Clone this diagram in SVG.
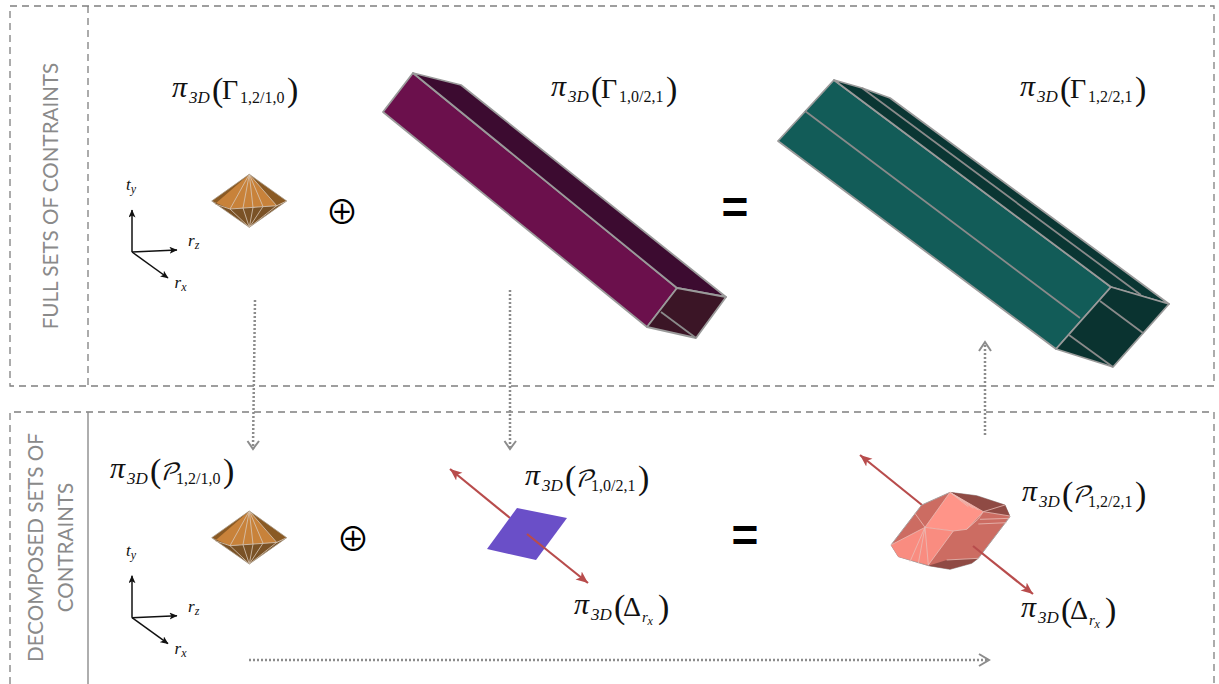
<svg xmlns="http://www.w3.org/2000/svg" xmlns:xlink="http://www.w3.org/1999/xlink" width="1219" height="684" viewBox="0 0 1219 684">
<style>
text{font-family:"Liberation Serif","DejaVu Serif",serif;fill:#111}
.pi{font-size:30px;font-style:italic}
.d{font-size:17px;font-style:italic}
.sub{font-size:16px}
.par{font-size:34px;font-weight:400}
.sym{font-size:28px}
.script{font-size:23px;font-style:italic;font-family:"DejaVu Math TeX Gyre","Liberation Serif",serif}
.ax{font-size:17px;font-style:italic}
.axs{font-size:12px;font-style:italic}
.rr{font-size:15px;font-style:italic}
.side{font-family:Lato,"Open Sans",sans-serif;font-size:20.6px;fill:#8a8a8a;text-anchor:middle;font-weight:400}
.op{font-family:"Noto Sans CJK SC",sans-serif;font-size:33px;fill:#000}
.eq{font-family:"Liberation Sans",sans-serif;font-size:46px;font-weight:700;fill:#000}
.dash{fill:none;stroke:#7f7f7f;stroke-width:1.3;stroke-dasharray:7 5}
.flow{fill:none;stroke:#8c8c8c;stroke-width:2.5;stroke-dasharray:2 2}
.head{fill:none;stroke:#8c8c8c;stroke-width:2}
.edge{stroke:#9a9a9a;stroke-width:1.8;stroke-linejoin:round}
.line{fill:none;stroke:#8a8a8a;stroke-width:1.8}
.fine{fill:none;stroke:#d8c8b8;stroke-width:.8}
.pk{fill:none;stroke:#e8bdb6;stroke-width:2.4}
.axis{stroke:#111;stroke-width:1.5;fill:none;marker-end:url(#ah)}
.red{stroke:#b84c4c;stroke-width:2.2;fill:none;marker-end:url(#rh)}
</style>
<defs>
<marker id="ah" markerWidth="9" markerHeight="8" refX="7.5" refY="3.5" orient="auto" markerUnits="userSpaceOnUse"><path d="M0,0L8,3.5L0,7L2,3.5Z" fill="#111"/></marker>
<marker id="rh" markerWidth="14" markerHeight="12" refX="12" refY="5" orient="auto" markerUnits="userSpaceOnUse"><path d="M0,0L12,5L0,10L3,5Z" fill="#b84c4c"/></marker>
<g id="gem">
<path d="M249.3,174.3L211.7,201L230,209L276.7,205.7L286.7,201Z" fill="#8a5a24"/>
<path d="M249.3,174.3L215,204L230,209L276.7,205.7Z" fill="#c8823a"/>
<path d="M211.7,201L230,209L276.7,205.7L286.7,201L249.3,227.3Z" fill="#7a5226"/>
<path d="M249.3,174.3L230,209M249.3,174.3L243,208M249.3,174.3L253,207.5M249.3,174.3L263,206.500M249.3,174.3L276.7,205.7M230,209L249.3,227.3M243,208L249.3,227.3M253,207.5L249.3,227.3M263,206.500L249.3,227.3M276.7,205.7L249.3,227.3M215,204L230,209L276.7,205.7L286.7,201" class="fine"/>
<path d="M249.3,174.3L211.7,201L249.3,227.3L286.7,201Z" fill="none" stroke="#a89a88" stroke-width=".8"/>
</g>
<g id="axes">
<path class="axis" d="M132,252V210"/>
<path class="axis" d="M132,252L177,250"/>
<path class="axis" d="M132,252L168,278"/>
<text class="ax" x="126" y="190">t<tspan class="axs" dy="3">y</tspan></text>
<text class="ax" x="188" y="246">r<tspan class="axs" dy="3">z</tspan></text>
<text class="ax" x="174.500" y="288">r<tspan class="axs" dy="3">x</tspan></text>
</g>
</defs>
<rect width="1219" height="684" fill="#fff"/>
<g id="frames">
<rect class="dash" x="10" y="6" width="1204" height="380"/>
<path class="dash" d="M88,6V386"/>
<path class="dash" d="M10,684V412H1214V684"/>
<path d="M88,412V684" fill="none" stroke="#8c8c8c" stroke-width="1.4"/>
<text class="side" transform="translate(58,196) rotate(-90)">FULL SETS OF CONTRAINTS</text>
<text class="side" transform="translate(43,547.500) rotate(-90)">DECOMPOSED SETS OF</text>
<text class="side" transform="translate(72.500,547.500) rotate(-90)">CONTRAINTS</text>
</g>
<g id="connectors">
<path class="flow" d="M255,300L253,447"/><path class="head" d="M247.500,441L253,449L259,441"/>
<path class="flow" d="M510,290V447"/><path class="head" d="M504.500,441L510,449L516,441"/>
<path class="flow" d="M985,435V345"/><path class="head" d="M979,351L985,342L991,351"/>
<path class="flow" d="M249,660H987"/><path class="head" d="M979,654L989,660L979,666"/>
</g>
<g id="gem-top"><use xlink:href="#gem" href="#gem"/></g>
<g id="gem-bottom"><use xlink:href="#gem" href="#gem" y="336.700"/></g>
<g id="axes-top"><use xlink:href="#axes" href="#axes"/></g>
<g id="axes-bottom"><use xlink:href="#axes" href="#axes" y="365.700"/></g>
<g id="box-purple">
<path class="edge" d="M383,112L413,73L677,288L647,327Z" fill="#6b104c"/>
<path class="edge" d="M413,73L461,85L726,297L677,288Z" fill="#3c0b30"/>
<path class="edge" d="M677,288L726,297L696,338L647,327Z" fill="#3b1526"/>
<path class="line" d="M661,312L696,338"/>
</g>
<g id="box-teal">
<path class="edge" d="M778,141L834,80L1111,287L1056,349Z" fill="#125c58"/>
<path class="edge" d="M834,80L862,88L890,98L1169,304L1111,287Z" fill="#0a3633"/>
<path class="edge" d="M1111,287L1169,304L1113,367L1056,349Z" fill="#0a3330"/>
<path class="line" d="M805,111L1080,318M862,88L1141,295M1100,301L1143,333M1069,335L1113,367"/>
</g>
<g id="plane">
<path class="red" d="M510,518L450,469"/>
<path d="M517,508L567,518L536,560L487,549Z" fill="#6a4fc8"/>
<path class="red" d="M527,534L588,583"/>
</g>
<g id="solid">
<path class="red" d="M922,505L860,455"/>
<g transform="translate(850,450) scale(.33333)">
<path d="M300,127L215,165L123,285L145,320L235,347L300,358L365,340L385,325L480,200L465,165L380,137Z" fill="#cc6c62" stroke="#a8a0a0" stroke-width="3"/>
<path d="M300,127L380,137L465,165L480,198L400,185Z" fill="#8f4a44"/>
<path d="M300,127L400,185L350,238L310,243L225,232Z" fill="#ff9488"/>
<path d="M225,232L310,243L235,345L145,320L123,285Z" fill="#f98c80"/>
<path d="M235,347L290,330L385,325L365,340L300,358Z" fill="#8f4a44"/>
<path class="pk" d="M300,127L225,232L123,285M225,232L235,345M225,232L180,335M225,232L205,340M300,127L400,185M300,127L355,170M300,127L370,175M300,127L385,180M225,232L310,243L350,238L400,185L480,198M400,185L465,165M390,208L478,205M385,222L470,218M310,243L235,345M290,330L385,325M195,190L225,232M400,185L385,207L350,238"/>
</g>
<path class="red" d="M973,546L1033,594"/>
</g>
<g id="label-gamma-1">
<text class="pi" x="172" y="97">π</text><text class="d" x="189" y="103">3D</text><text class="par" x="212" y="101">(</text><text class="sym" x="222" y="99">Γ</text><text class="sub" x="240" y="103">1,2/1,0</text><text class="par" x="287" y="101">)</text>
</g>
<g id="label-gamma-2" transform="translate(379,-1)">
<text class="pi" x="172" y="97">π</text><text class="d" x="189" y="103">3D</text><text class="par" x="212" y="101">(</text><text class="sym" x="222" y="99">Γ</text><text class="sub" x="240" y="103">1,0/2,1</text><text class="par" x="287" y="101">)</text>
</g>
<g id="label-gamma-3" transform="translate(848,-1)">
<text class="pi" x="172" y="97">π</text><text class="d" x="189" y="103">3D</text><text class="par" x="212" y="101">(</text><text class="sym" x="222" y="99">Γ</text><text class="sub" x="240" y="103">1,2/2,1</text><text class="par" x="287" y="101">)</text>
</g>
<g id="label-p-1" transform="translate(-62,381)">
<text class="pi" x="172" y="97">π</text><text class="d" x="189" y="103">3D</text><text class="par" x="212" y="101">(</text><text class="script" x="221" y="99">𝒫</text><text class="sub" x="238" y="103">1,2/1,0</text><text class="par" x="285" y="101">)</text>
</g>
<g id="label-p-2" transform="translate(353,388)">
<text class="pi" x="172" y="97">π</text><text class="d" x="189" y="103">3D</text><text class="par" x="212" y="101">(</text><text class="script" x="221" y="99">𝒫</text><text class="sub" x="238" y="103">1,0/2,1</text><text class="par" x="285" y="101">)</text>
</g>
<g id="label-p-3" transform="translate(850,404)">
<text class="pi" x="172" y="97">π</text><text class="d" x="189" y="103">3D</text><text class="par" x="212" y="101">(</text><text class="script" x="221" y="99">𝒫</text><text class="sub" x="238" y="103">1,2/2,1</text><text class="par" x="285" y="101">)</text>
</g>
<g id="label-delta-1" transform="translate(402,517)">
<text class="pi" x="172" y="97">π</text><text class="d" x="189" y="103">3D</text><text class="par" x="212" y="101">(</text><text class="sym" x="221" y="99">Δ</text><text class="rr" x="240" y="105">r</text><text class="axs" x="245.500" y="108" font-size="10">x</text><text class="par" x="256" y="101">)</text>
</g>
<g id="label-delta-2" transform="translate(849,520)">
<text class="pi" x="172" y="97">π</text><text class="d" x="189" y="103">3D</text><text class="par" x="212" y="101">(</text><text class="sym" x="221" y="99">Δ</text><text class="rr" x="240" y="105">r</text><text class="axs" x="245.500" y="108" font-size="10">x</text><text class="par" x="256" y="101">)</text>
</g>
<g id="op-plus-top"><text class="op" x="342" y="224" text-anchor="middle">⊕</text></g>
<g id="op-plus-bottom"><text class="op" x="353" y="551" text-anchor="middle">⊕</text></g>
<g id="op-eq-top"><text class="eq" x="735" y="223" text-anchor="middle">=</text></g>
<g id="op-eq-bottom"><text class="eq" x="745" y="551" text-anchor="middle">=</text></g>
</svg>
